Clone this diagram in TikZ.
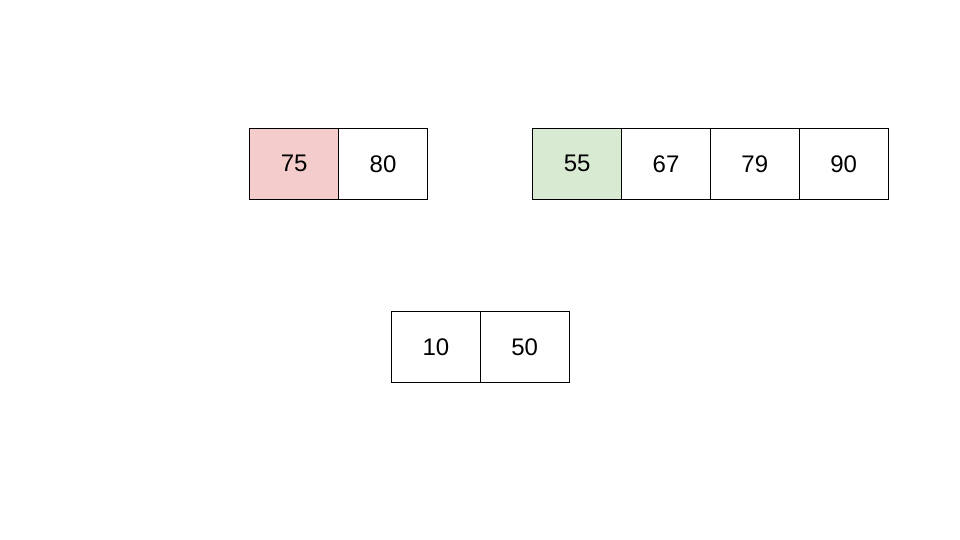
\documentclass[tikz,border=0pt]{standalone}
\usepackage{fontspec}
\setmainfont{Liberation Sans}
\definecolor{pinkc}{HTML}{F4CCCC}
\definecolor{greenc}{HTML}{D9EAD3}
\begin{document}
\begin{tikzpicture}[x=1pt,y=-1pt,
  cell/.style={draw=black,line width=0.8pt,minimum width=88.8pt,minimum height=71.5pt,inner sep=0pt,font=\fontsize{24}{26}\selectfont,anchor=north west}]
\useasboundingbox[fill=white] (0,0) rectangle (960,540);
\node[cell,fill=pinkc] (a1) at (249.4,127.6) {75};
\node[cell] (a2) at (338.2,127.6) {80};
\node[cell,fill=greenc] (b1) at (532.4,127.6) {55};
\node[cell] (b2) at (621.2,127.6) {67};
\node[cell] (b3) at (710.0,127.6) {79};
\node[cell] (b4) at (798.8,127.6) {90};
\node[cell] (c1) at (391.1,310.8) {10};
\node[cell] (c2) at (479.9,310.8) {50};
\end{tikzpicture}
\end{document}
